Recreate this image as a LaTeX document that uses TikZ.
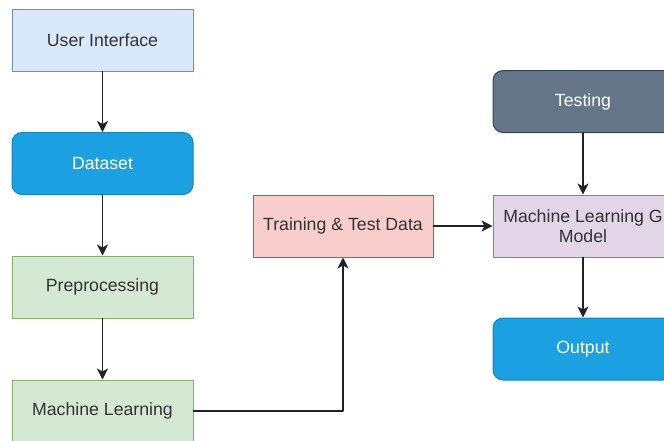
\documentclass[tikz,border=0pt]{standalone}
\usepackage{fontspec}
\setmainfont{Liberation Sans}
\usetikzlibrary{arrows.meta}
\definecolor{uifill}{HTML}{DAE8FC}
\definecolor{uidraw}{HTML}{6C8EBF}
\definecolor{bluefill}{HTML}{1BA1E2}
\definecolor{bluedraw}{HTML}{1283C4}
\definecolor{greenfill}{HTML}{D5E8D4}
\definecolor{greendraw}{HTML}{82B366}
\definecolor{redfill}{HTML}{F8CECC}
\definecolor{reddraw}{HTML}{B85450}
\definecolor{purplefill}{HTML}{E1D5E7}
\definecolor{purpledraw}{HTML}{9673A6}
\definecolor{greyfill}{HTML}{647687}
\definecolor{greydraw}{HTML}{314354}
\definecolor{txt}{HTML}{333333}
\definecolor{linkcol}{HTML}{222222}

\begin{document}
\begin{tikzpicture}[x=1pt,y=-1pt,line cap=round,line join=round,
		box/.style={draw,line width=1pt,minimum width=181pt,minimum height=62pt,inner sep=2pt,
			font=\fontsize{17.7}{20.5}\selectfont,text=txt,align=center},
		roundbox/.style={box,rounded corners=10pt,text=white},
		link/.style={line width=1.8pt,draw=linkcol,-{Stealth[length=11pt,width=11pt,inset=3pt]}}]
		\useasboundingbox (0,0) rectangle (664,440);
		\clip (0,0) rectangle (664,440);
		\node[box,fill=uifill,draw=uidraw] (ui) at (102.5,40) {User Interface};
		\node[roundbox,fill=bluefill,draw=bluedraw] (data) at (102.5,163.5) {Dataset};
		\node[box,fill=greenfill,draw=greendraw] (pre) at (102.5,287) {Preprocessing};
		\node[box,fill=greenfill,draw=greendraw] (ml) at (102.5,411) {Machine Learning};
		\node[box,fill=redfill,draw=reddraw,minimum width=180pt] (tt) at (343,226) {Training \& Test Data};
		\node[roundbox,fill=greyfill,draw=greydraw,minimum width=180pt] (test) at (583,101.5) {Testing};
		\node[box,fill=purplefill,draw=purpledraw,minimum width=180pt] (mlg) at (583,226) {Machine Learning G\\Model};
		\node[roundbox,fill=bluefill,draw=bluedraw,minimum width=180pt] (out) at (583,349) {Output};
		\draw[link] (ui) -- (data);
		\draw[link] (data) -- (pre);
		\draw[link] (pre) -- (ml);
		\draw[link] (ml.east) -| (tt.south);
		\draw[link] (tt) -- (mlg);
		\draw[link] (test) -- (mlg);
		\draw[link] (mlg) -- (out);
	\end{tikzpicture}
\end{document}
